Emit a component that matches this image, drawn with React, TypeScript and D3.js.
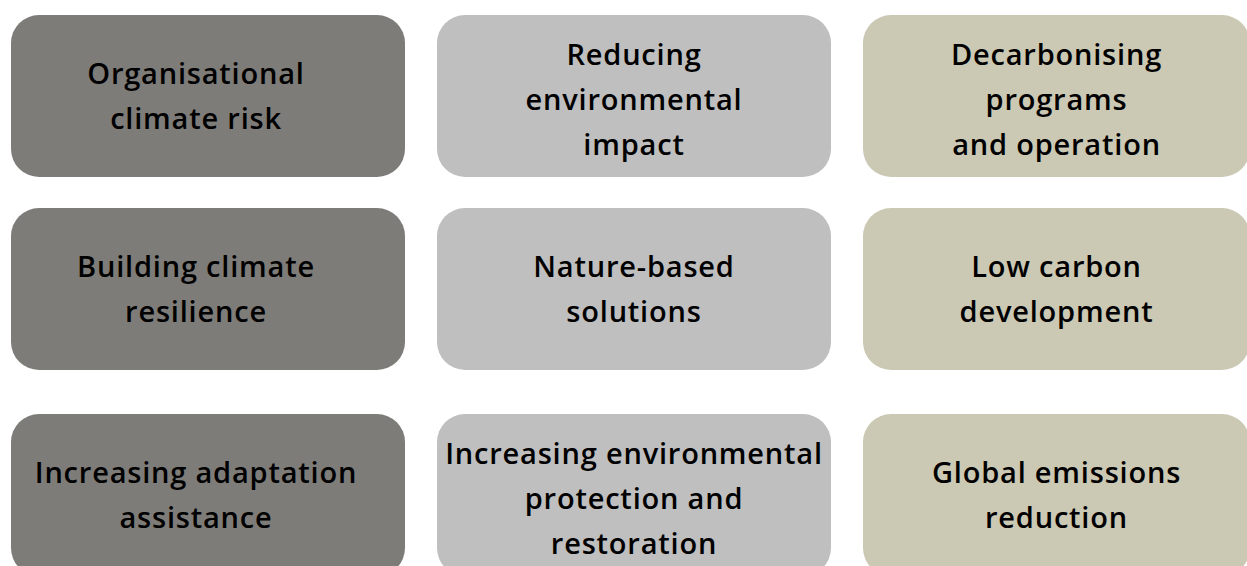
import React, { useEffect, useRef } from 'react';
import * as d3 from 'd3';

// Three themes (columns) x three levels (rows)
const columns = ['risk', 'environment', 'carbon'];
const rows = ['first', 'second', 'third'];

const labels: string[][][] = [
    [
        ['Organisational', 'climate risk'],
        ['Building climate', 'resilience'],
        ['Increasing adaptation', 'assistance'],
    ],
    [
        ['Reducing', 'environmental', 'impact'],
        ['Nature-based', 'solutions'],
        ['Increasing environmental', 'protection and', 'restoration'],
    ],
    [
        ['Decarbonising', 'programs', 'and operation'],
        ['Low carbon', 'development'],
        ['Global emissions', 'reduction'],
    ],
];

const colours = ['#7e7c78', '#bfbfbf', '#cbc8b4'];

const W = 1247;
const H = 566;

const App: React.FC = () => {
    const svgRef = useRef<SVGSVGElement>(null);

    useEffect(() => {
        document.body.style.margin = '0';
        if (!svgRef.current) return;

        const svg = d3.select(svgRef.current);
        svg.selectAll('*').remove();

        const boxW = 394;
        const boxH = 162;

        const x = d3.scaleBand<string>()
            .domain(columns)
            .range([11, 11 + 3 * boxW + 2 * 32])
            .paddingInner(32 / (boxW + 32))
            .paddingOuter(0);

        // rows are not evenly spaced in the original
        const y = d3.scaleOrdinal<string, number>()
            .domain(rows)
            .range([15, 208, 414]);

        const colour = d3.scaleOrdinal<string, string>()
            .domain(columns)
            .range(colours);

        // col 1 text sits a little left of centre
        const textShift = d3.scaleOrdinal<string, number>()
            .domain(columns)
            .range([-12, 0, 0]);

        const lineH = 45;
        const fontSize = 29;

        columns.forEach((c, ci) => {
            rows.forEach((r, ri) => {
                const x0 = x(c)!;
                const w = Math.min(x.bandwidth(), 1250 - x0);
                const y0 = y(r);
                const g = svg.append('g');

                g.append('rect')
                    .attr('x', x0)
                    .attr('y', y0)
                    .attr('width', w)
                    .attr('height', boxH)
                    .attr('rx', 28)
                    .attr('ry', 28)
                    .attr('fill', colour(c));

                const lines = labels[ci][ri];
                const cx = x0 + w / 2 + textShift(c);
                const cy = y0 + boxH / 2;
                const first = cy - ((lines.length - 1) / 2) * lineH + (lines.length > 2 ? 14 : 10);

                const text = g.append('text')
                    .attr('text-anchor', 'middle')
                    .style('font-family', '"Open Sans", sans-serif')
                    .style('font-weight', 600)
                    .style('font-size', `${fontSize}px`)
                    .style('letter-spacing', '0.8px')
                    .style('font-variant-ligatures', 'none')
                    .style('fill', '#000');

                lines.forEach((line, li) => {
                    text.append('tspan')
                        .attr('x', cx)
                        .attr('y', first + li * lineH)
                        .text(line);
                });
            });
        });
    }, []);

    return (
        <svg ref={svgRef} width={W} height={H} style={{ display: 'block', background: '#fff' }} />
    );
};

export default App;
